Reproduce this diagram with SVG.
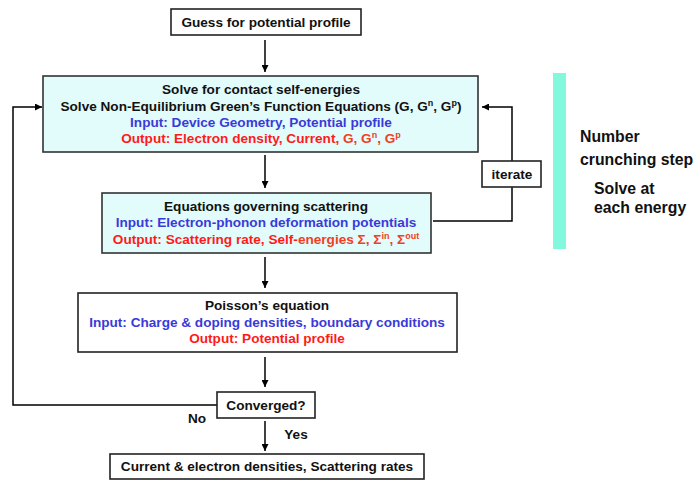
<svg xmlns="http://www.w3.org/2000/svg" width="697" height="480" viewBox="0 0 697 480">
<defs>
<marker id="ah" viewBox="0 0 10 10" refX="10" refY="5" markerWidth="7" markerHeight="7" markerUnits="userSpaceOnUse" orient="auto"><path d="M0,0 L10,5 L0,10 z" fill="#000"/></marker>
<style>
text{font-family:"Liberation Sans",Arial,sans-serif;font-weight:bold;font-size:13.6px;fill:#111;text-anchor:middle}
.box{fill:#fff;stroke:#222;stroke-width:1.6}
.cy{fill:#e2fbfb;stroke:#333;stroke-width:1.6}
.bl{fill:#3a3ad8}
.rd{fill:#ff1a1a}
.or{fill:#f0401e}
.side{font-size:15.8px;text-anchor:start}
.sup{font-size:9px}
.c{fill:none;stroke:#000;stroke-width:1.5}
</style>
</defs>
<rect x="553" y="73" width="13" height="176" fill="#82f8dc"/>
<g id="connectors">
<line class="c" x1="265" y1="40" x2="265" y2="72" marker-end="url(#ah)"/>
<line class="c" x1="265" y1="155" x2="265" y2="188" marker-end="url(#ah)"/>
<line class="c" x1="265" y1="257" x2="265" y2="288" marker-end="url(#ah)"/>
<line class="c" x1="265" y1="357" x2="265" y2="387" marker-end="url(#ah)"/>
<line class="c" x1="265" y1="421" x2="265" y2="451" marker-end="url(#ah)"/>
<polyline class="c" points="433,221 512,221 512,187"/>
<polyline class="c" points="512,161 512,107 482,107" marker-end="url(#ah)"/>
<polyline class="c" points="217,405 13,405 13,107 42,107" marker-end="url(#ah)"/>
<text x="197" y="423">No</text>
<text x="296" y="439">Yes</text>
</g>
<g id="guess">
<rect class="box" x="171" y="9" width="190" height="26"/>
<text x="266" y="27">Guess for potential profile</text>
</g>
<g id="solve">
<rect class="cy" x="43" y="76" width="435" height="76"/>
<text x="261" y="94">Solve for contact self-energies</text>
<text x="261" y="111">Solve Non-Equilibrium Green’s Function Equations (G, G<tspan class="sup" dy="-5">n</tspan><tspan dy="5">, G</tspan><tspan class="sup" dy="-5">p</tspan><tspan dy="5">)</tspan></text>
<text x="261" y="127" class="bl">Input: Device Geometry, Potential profile</text>
<text x="261" y="143" class="rd">Output: Electron density, Current, <tspan class="or">G, G</tspan><tspan class="or sup" dy="-5">n</tspan><tspan class="or" dy="5">, G</tspan><tspan class="or sup" dy="-5">p</tspan></text>
</g>
<g id="iterate">
<rect class="box" x="482" y="161" width="59" height="26"/>
<text x="512" y="179">iterate</text>
</g>
<g id="scattering">
<rect class="cy" x="102" y="193" width="329" height="60"/>
<text x="266" y="211">Equations governing scattering</text>
<text x="266" y="227" class="bl">Input: Electron-phonon deformation potentials</text>
<text x="266" y="244" class="rd">Output: Scattering rate, Self-<tspan class="or">energies Σ, Σ</tspan><tspan class="or sup" dy="-5">in</tspan><tspan class="or" dy="5">, Σ</tspan><tspan class="or sup" dy="-5">out</tspan></text>
</g>
<g id="poisson">
<rect class="box" x="78" y="293" width="379" height="59"/>
<text x="267" y="310">Poisson’s equation</text>
<text x="267" y="327" class="bl">Input: Charge &amp; doping densities, boundary conditions</text>
<text x="267" y="343" class="rd">Output: Potential profile</text>
</g>
<g id="converged">
<rect class="box" x="217" y="392" width="98" height="26"/>
<text x="266" y="410">Converged?</text>
</g>
<g id="result">
<rect class="box" x="110" y="454" width="314" height="25"/>
<text x="267" y="471">Current &amp; electron densities, Scattering rates</text>
</g>
<g id="labels">
<text class="side" x="580" y="142">Number</text>
<text class="side" x="580" y="165">crunching step</text>
<text class="side" x="594" y="194">Solve at</text>
<text class="side" x="594" y="213">each energy</text>
</g>
</svg>
